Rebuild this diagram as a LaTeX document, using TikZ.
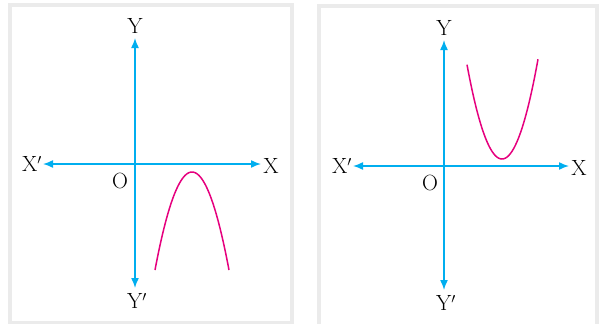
\documentclass[tikz,border=0pt]{standalone}
\usepackage{fontspec}
\usepackage{tikz}
\usetikzlibrary{arrows.meta,positioning}
\definecolor{axiscyan}{RGB}{0,174,239}
\definecolor{curvemag}{RGB}{230,0,126}

\begin{document}
\begin{tikzpicture}[
    x=1pt, y=-1pt,
    panel/.style={draw=black!8, line width=4pt, fill=white},
    axis/.style={draw=axiscyan, line width=1.5pt,
      {Latex[length=10pt,width=8pt]}-{Latex[length=10pt,width=8pt]}},
    curve/.style={draw=curvemag, line width=1.5pt},
    lbl/.style={font=\fontsize{22}{24}\selectfont, inner sep=1pt}
  ]
  \useasboundingbox (0,0) rectangle (600,324);

  % panels
  \path[panel] (10,5) rectangle (292,323);
  \path[panel] (319,6) rectangle (597,332);

  % left graph
  \coordinate (ltop) at (135,38);
  \coordinate (lbot) at (135,288);
  \coordinate (lleft) at (43,164);
  \coordinate (lright) at (261,164);
  \draw[axis] (ltop) -- (lbot);
  \draw[axis] (lleft) -- (lright);
  \node[lbl] (lY) at (135,26) {Y};
  \node[lbl] (lYp) at (137,301) {Y$'$};
  \node[lbl] (lXp) at (32,164) {X$'$};
  \node[lbl] (lX) at (271,166) {X};
  \node[lbl] (lO) at (120,181) {O};
  \draw[curve] plot[domain=155:229, samples=60, smooth]
    (\x, {172+0.0716*(\x-192)*(\x-192)});

  % right graph
  \coordinate (rtop) at (444,40);
  \coordinate (rbot) at (444,290);
  \coordinate (rleft) at (353,166);
  \coordinate (rright) at (569,166);
  \draw[axis] (rtop) -- (rbot);
  \draw[axis] (rleft) -- (rright);
  \node[lbl] (rY) at (444,28) {Y};
  \node[lbl] (rYp) at (446,303) {Y$'$};
  \node[lbl] (rXp) at (342,166) {X$'$};
  \node[lbl] (rX) at (579,168) {X};
  \node[lbl] (rO) at (430,183) {O};
  \draw[curve] plot[domain=467:538, samples=60, smooth]
    (\x, {159-0.077*(\x-502)*(\x-502)});
\end{tikzpicture}
\end{document}
